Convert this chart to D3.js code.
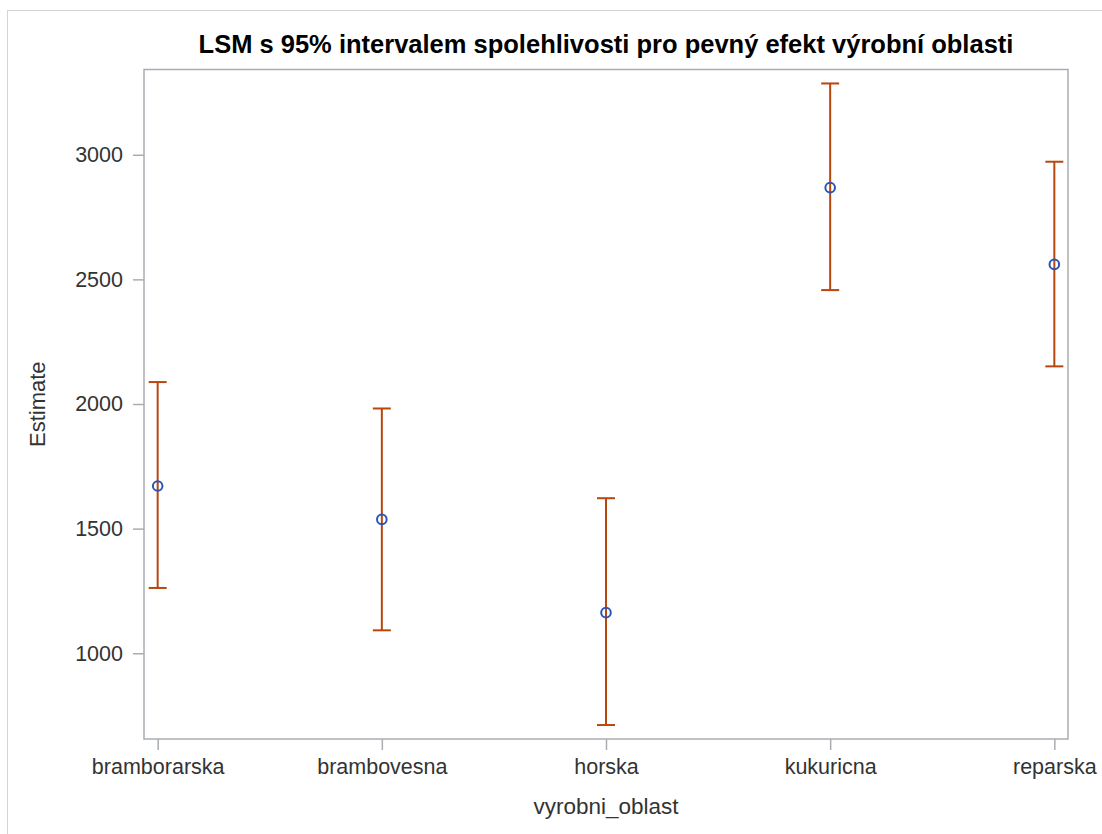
<!DOCTYPE html>
<html>
<head>
<meta charset="utf-8">
<script src="https://cdn.jsdelivr.net/npm/d3@7"></script>
<style>
  body { margin: 0; background: #fff; }
  svg { display: block; }
</style>
</head>
<body>
<script>
// data
var categories = ["bramborarska", "brambovesna", "horska", "kukuricna", "reparska"];
var estimates = [1671, 1537, 1163, 2868, 2560];
var lowerCL = [1262, 1092, 712, 2457, 2151];
var upperCL = [2088, 1982, 1622, 3286, 2972];
var yTicks = [1000, 1500, 2000, 2500, 3000];

var W = 1102, H = 834;
var margin = { top: 69.5, right: 34, bottom: 95, left: 144 };
var width = W - margin.left - margin.right,
  height = H - margin.top - margin.bottom;

var font = "'Liberation Sans', Arial, sans-serif";
var frameColor = "#a9adb2";

var svg = d3.select("body").append("svg").attr("width", W).attr("height", H);

// outer border
svg.append("rect")
  .attr("x", 7.5).attr("y", 10.5)
  .attr("width", W).attr("height", H)
  .attr("fill", "none").attr("stroke", "#d4d4d4");

var chart = svg.append("g")
  .attr("transform", "translate(" + margin.left + "," + margin.top + ")");

var xScale = d3.scalePoint().domain(categories).range([0, width]).padding(0.061);
var yScale = d3.scaleLinear().domain([656, 3342]).range([height, 0]);

var data = categories.map(function (c, i) {
  return { cat: c, est: estimates[i], lo: lowerCL[i], hi: upperCL[i] };
});

// frame
chart.append("rect")
  .attr("x", 0).attr("y", 0)
  .attr("width", width).attr("height", height)
  .attr("fill", "none").attr("stroke", frameColor).attr("stroke-width", 1.5);

// axes
var yAxis = chart.append("g")
  .call(d3.axisLeft(yScale).tickValues(yTicks).tickFormat(d3.format("d"))
    .tickSize(11).tickPadding(10));
yAxis.select(".domain").remove();
yAxis.selectAll(".tick line").attr("stroke", frameColor).attr("stroke-width", 1.5);
yAxis.selectAll(".tick text")
  .attr("font-family", font).attr("font-size", 21.5).attr("fill", "#333");

var xAxis = chart.append("g")
  .attr("transform", "translate(0," + height + ")")
  .call(d3.axisBottom(xScale).tickSize(11).tickPadding(9));
xAxis.select(".domain").remove();
xAxis.selectAll(".tick line").attr("stroke", frameColor).attr("stroke-width", 1.5);
xAxis.selectAll(".tick text")
  .attr("font-family", font).attr("font-size", 21.5).attr("fill", "#333");

// error bars
var errColor = "#b8460f";
var capW = 9;
var bars = chart.selectAll(".err").data(data).enter().append("g").attr("class", "err");
bars.append("line")
  .attr("x1", function (d) { return xScale(d.cat); })
  .attr("x2", function (d) { return xScale(d.cat); })
  .attr("y1", function (d) { return yScale(d.lo); })
  .attr("y2", function (d) { return yScale(d.hi); })
  .attr("stroke", errColor).attr("stroke-width", 2);
bars.append("line")
  .attr("x1", function (d) { return xScale(d.cat) - capW; })
  .attr("x2", function (d) { return xScale(d.cat) + capW; })
  .attr("y1", function (d) { return yScale(d.hi); })
  .attr("y2", function (d) { return yScale(d.hi); })
  .attr("stroke", errColor).attr("stroke-width", 2);
bars.append("line")
  .attr("x1", function (d) { return xScale(d.cat) - capW; })
  .attr("x2", function (d) { return xScale(d.cat) + capW; })
  .attr("y1", function (d) { return yScale(d.lo); })
  .attr("y2", function (d) { return yScale(d.lo); })
  .attr("stroke", errColor).attr("stroke-width", 2);

// estimates
chart.selectAll(".dot").data(data).enter().append("circle")
  .attr("class", "dot")
  .attr("cx", function (d) { return xScale(d.cat); })
  .attr("cy", function (d) { return yScale(d.est); })
  .attr("r", 4.8)
  .attr("fill", "none")
  .attr("stroke", "#2a55b8")
  .attr("stroke-width", 2);

// titles
svg.append("text")
  .attr("x", margin.left + width / 2).attr("y", 53)
  .attr("text-anchor", "middle")
  .attr("font-family", font).attr("font-weight", "bold").attr("font-size", 25.5)
  .attr("fill", "#000")
  .text("LSM s 95% intervalem spolehlivosti pro pevný efekt výrobní oblasti");

svg.append("text")
  .attr("transform", "translate(45," + (margin.top + height / 2) + ") rotate(-90)")
  .attr("text-anchor", "middle")
  .attr("font-family", font).attr("font-size", 22).attr("fill", "#333")
  .text("Estimate");

svg.append("text")
  .attr("x", margin.left + width / 2).attr("y", 814)
  .attr("text-anchor", "middle")
  .attr("font-family", font).attr("font-size", 22.5).attr("fill", "#333")
  .text("vyrobni_oblast");
</script>
</body>
</html>
